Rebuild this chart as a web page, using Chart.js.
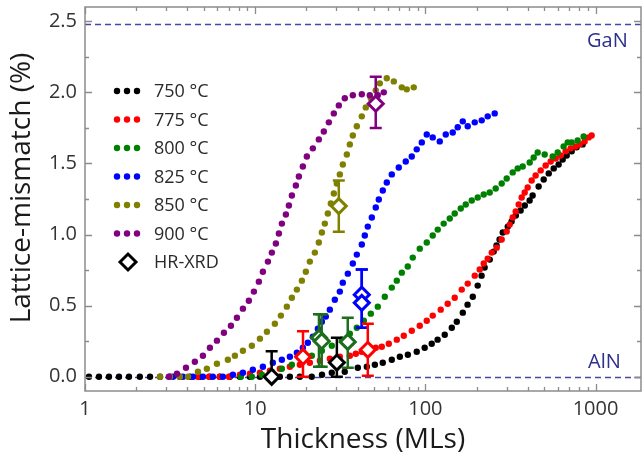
<!DOCTYPE html>
<html><head><meta charset="utf-8">
<script src="https://cdn.jsdelivr.net/npm/chart.js@4.4.1/dist/chart.umd.min.js"></script>
<style>html,body{margin:0;padding:0;background:#fff;overflow:hidden;}#wrap{width:643px;height:459px;overflow:hidden;}canvas{display:block;}</style>
</head><body><div id="wrap"><canvas id="c" width="643" height="459"></canvas></div>
<script>
const seriesNames = ['750 °C','775 °C','800 °C','825 °C','850 °C','900 °C'];
const t750 = [1.055,1.208,1.383,1.584,1.813,2.10,2.41,2.76,3.16,3.61,4.14,4.74,5.42,6.20,7.10,8.13,9.31,10.66,12.2,13.96,15.99,18.3,21.5,24.7,28.2,33.6,40.1,45.3,50.5,56.2,63.5,70.8,78.9,89.0,99.1,109,118,130,143,153,166,177,190,203,214,223,239,252,262,273,285,305,321,340,363,384,410,427,463,496,531,568,607,641,677,724,774,840];
const m750 = [0,0,0,0,0,0,0,0,0,0,0,0,0,0,0,0,0,0,0,0,0,0,0,0.014,0.028,0.035,0.063,0.07,0.085,0.099,0.12,0.141,0.155,0.176,0.204,0.232,0.261,0.296,0.345,0.387,0.451,0.507,0.563,0.641,0.711,0.768,0.824,0.880,0.923,0.965,1.014,1.056,1.092,1.134,1.169,1.204,1.239,1.275,1.338,1.387,1.430,1.465,1.493,1.528,1.556,1.585,1.613,1.634];
const t775 = [4.61,5.35,6.20,7.01,8.13,9.31,10.66,12.2,13.96,15.99,18.3,20.95,23.99,27.46,31.44,35.99,39.03,42.32,47.16,51.13,55.46,60.97,67.95,74.69,83.2,92.7,101.9,110.5,123.1,135.3,148.8,163.6,177.4,195.1,208.7,220.3,232.5,245.5,262.6,280.9,300.6,313.1,326.1,339.6,353.6,368.1,383.5,399.3,421.4,444.8,476.0,509.3,545.0,583.1,623.9,667.4,714.2,764.2,806.7,863.0,911.0,948.7];
const m775 = [0,0,0,0,0.014,0.021,0.028,0.042,0.056,0.070,0.085,0.099,0.113,0.127,0.141,0.148,0.162,0.176,0.190,0.204,0.211,0.232,0.261,0.289,0.324,0.359,0.394,0.430,0.472,0.514,0.556,0.613,0.655,0.711,0.754,0.796,0.831,0.873,0.908,0.965,1.021,1.070,1.120,1.162,1.211,1.261,1.296,1.331,1.380,1.415,1.451,1.486,1.514,1.535,1.556,1.585,1.606,1.620,1.634,1.655,1.683,1.697];
const t800 = [8.24,9.56,10.95,12.53,14.35,16.43,18.81,21.52,24.65,28.21,32.29,35.99,39.56,43.49,47.81,52.55,57.77,63.5,67.95,72.70,78.83,84.33,92.7,101.9,110.5,118.3,128.2,139.1,148.8,161.4,172.7,187.3,203.1,220.3,238.9,259.1,280.9,300.6,326.1,348.9,373.3,410.2,433.0,457.1,502.5,560.0,599.2,649.6,685.9,724.0,785.1,851.4];
const m800 = [0,0,0.014,0.035,0.056,0.085,0.113,0.148,0.183,0.218,0.261,0.303,0.345,0.394,0.444,0.493,0.563,0.627,0.676,0.732,0.775,0.838,0.901,0.944,0.993,1.035,1.077,1.113,1.148,1.183,1.211,1.239,1.261,1.282,1.296,1.324,1.359,1.394,1.437,1.465,1.479,1.507,1.542,1.577,1.563,1.549,1.577,1.620,1.648,1.648,1.662,1.690];
const t825 = [3.29,3.76,4.31,4.93,5.64,6.46,7.40,8.47,9.69,11.10,12.70,14.35,15.99,17.58,19.06,20.39,21.82,23.35,24.65,26.01,27.46,29.38,31.44,32.73,35.03,37.48,39.56,42.32,44.07,45.89,48.46,51.13,53.26,56.23,59.35,63.5,69.8,76.7,83.2,89.0,95.3,101.9,110.5,121.5,131.8,144.9,155.0,165.9,177.4,195.1,214.4,232.5,255.6];
const m825 = [0,0,0,0,0,0,0.014,0.028,0.049,0.070,0.099,0.120,0.141,0.169,0.204,0.239,0.282,0.338,0.387,0.423,0.472,0.542,0.599,0.662,0.725,0.796,0.859,0.930,0.993,1.056,1.120,1.190,1.246,1.310,1.366,1.423,1.472,1.514,1.549,1.599,1.648,1.704,1.683,1.655,1.704,1.718,1.754,1.796,1.761,1.789,1.803,1.831,1.852];
const t850 = [2.76,3.16,3.61,4.03,4.61,5.20,5.96,6.91,7.60,8.47,9.56,10.66,11.72,13.05,14.16,15.35,16.43,17.58,18.81,19.85,20.95,22.42,23.66,24.65,25.66,26.73,27.83,28.98,30.18,31.44,32.73,34.56,35.99,37.48,39.56,42.32,44.67,47.81,51.13,53.98,59.34,65.26,72.70,77.76,85.47];
const m850 = [0,0,0,0,0.035,0.056,0.092,0.120,0.148,0.183,0.218,0.268,0.317,0.373,0.430,0.493,0.556,0.613,0.676,0.739,0.810,0.873,0.944,1.014,1.077,1.148,1.218,1.289,1.359,1.423,1.493,1.563,1.634,1.697,1.761,1.831,1.894,1.958,2.014,2.063,2.099,2.077,2.035,2.021,2.035];
const t900 = [3.11,3.47,3.92,4.42,4.93,5.42,5.96,6.55,7.20,7.81,8.47,9.18,9.83,10.51,11.10,11.88,12.53,13.23,13.78,14.35,15.15,15.78,16.43,17.34,18.06,19.06,20.12,21.82,23.66,25.32,27.09,28.98,31.01,33.63,37.48,42.32,47.16,52.55,56.98];
const m900 = [0,0.021,0.063,0.106,0.148,0.204,0.254,0.310,0.359,0.415,0.479,0.535,0.599,0.669,0.739,0.810,0.873,0.937,1.007,1.077,1.141,1.204,1.275,1.345,1.408,1.479,1.549,1.606,1.669,1.725,1.789,1.852,1.908,1.958,1.979,1.986,1.979,1.979,2.000];

// HR-XRD points
const xrdSeries = [0,1,2,2,0,2,3,3,1,4,5];
const xrdT    = [12.5,19.1,23.7,24.6,30.2,35.0,42.3,42.3,45.9,31.0,51.1];
const xrdM    = [0.00,0.14,0.275,0.25,0.10,0.245,0.577,0.52,0.19,1.20,1.92];
const xrdLow  = [0.00,0.00,0.07,0.07,0.00,0.063,0.345,0.345,0.007,1.02,1.75];
const xrdHigh = [0.18,0.32,0.44,0.44,0.275,0.415,0.754,0.754,0.373,1.38,2.11];

const xTickValues = [1,10,100,1000];
const xTickLabels = ['1','10','100','1000'];
const yTickValues = [0,0.5,1,1.5,2,2.5];
const yTickLabels = ['0.0','0.5','1.0','1.5','2.0','2.5'];
const refNames = ['GaN','AlN'];
const refValues = [2.48,0];
const xMin = 1, xMax = 1850, yMin = -0.1, yMax = 2.6;

const dotColors = ['#000000','#ff0000','#008000','#0000ff','#808000','#800080'];
const xrdColors = ['#000000','#ff0000','#1c6e1c','#0000ff','#808000','#800080'];
const FONT = '"Open Sans", "DejaVu Sans", sans-serif';

const tList = [t750,t775,t800,t825,t850,t900];
const mList = [m750,m775,m800,m825,m850,m900];
const datasets = [{
  label:'HR-XRD', order:0,
  data: xrdT.map((t,i)=>({x:t,y:xrdM[i]})),
  pointStyle:'rectRot', pointRadius:7.5, pointHoverRadius:7.5,
  pointBorderWidth:3, pointHoverBorderWidth:3,
  pointBorderColor: xrdSeries.map(s=>xrdColors[s]),
  pointBackgroundColor:'#ffffff', showLine:false
}];
seriesNames.forEach((n,i)=>{
  datasets.push({label:n, order:6-i, data:tList[i].map((t,j)=>({x:t,y:mList[i][j]})),
    pointRadius:3.2, pointHoverRadius:3.2, pointBorderWidth:0,
    pointBackgroundColor:dotColors[i], pointBorderColor:dotColors[i], showLine:false});
});

const decor = {
  id:'decor',
  beforeDatasetsDraw(chart){
    const {ctx, chartArea:a, scales:{y}} = chart;
    ctx.save();
    ctx.strokeStyle='#4646a6'; ctx.lineWidth=1.4; ctx.setLineDash([6,4]);
    refValues.forEach(v=>{const py=Math.round(y.getPixelForValue(v))+0.5;
      ctx.beginPath(); ctx.moveTo(a.left,py); ctx.lineTo(a.right,py); ctx.stroke();});
    ctx.restore();
  },
  beforeDatasetDraw(chart,args){
    if(args.index!==0) return;
    const {ctx, chartArea:a, scales:{x,y}} = chart;
    ctx.save();
    ctx.beginPath(); ctx.rect(a.left,a.top,a.right-a.left,a.bottom-a.top); ctx.clip();
    ctx.lineWidth=2.5;
    xrdT.forEach((t,i)=>{
      const px=x.getPixelForValue(t), lo=y.getPixelForValue(xrdLow[i]), hi=y.getPixelForValue(xrdHigh[i]);
      ctx.strokeStyle=xrdColors[xrdSeries[i]];
      ctx.beginPath(); ctx.moveTo(px,lo); ctx.lineTo(px,hi);
      ctx.moveTo(px-6,hi); ctx.lineTo(px+6,hi);
      if(xrdLow[i]<xrdM[i]){ctx.moveTo(px-6,lo); ctx.lineTo(px+6,lo);}
      ctx.stroke();
    });
    ctx.restore();
  },
  afterDraw(chart){
    const {ctx, chartArea:a, scales:{x,y}} = chart;
    ctx.save();
    ctx.strokeStyle='#8c8c8c'; ctx.lineWidth=1.5;
    ctx.strokeRect(a.left,a.top,a.right-a.left,a.bottom-a.top);
    ctx.lineWidth=1.3;
    ctx.beginPath();
    for(let e=0;e<=3;e++) for(let m=1;m<=9;m++){
      const v=m*Math.pow(10,e); if(v>xMax) continue;
      const px=Math.round(x.getPixelForValue(v))+0.5, L=(m===1)?7:4;
      ctx.moveTo(px,a.bottom); ctx.lineTo(px,a.bottom-L);
      ctx.moveTo(px,a.top); ctx.lineTo(px,a.top+L);
    }
    for(let k=0;k<=10;k++){
      const v=k*0.25, py=Math.round(y.getPixelForValue(v))+0.5, L=(k%2===0)?7:4;
      ctx.moveTo(a.left,py); ctx.lineTo(a.left+L,py);
      ctx.moveTo(a.right,py); ctx.lineTo(a.right-L,py);
    }
    ctx.stroke();
    ctx.fillStyle='#2e2e8e'; ctx.font='20px '+FONT; ctx.textBaseline='middle'; ctx.textAlign='left';
    ctx.fillText(refNames[0], 587, y.getPixelForValue(refValues[0])+17);
    ctx.fillText(refNames[1], 588, y.getPixelForValue(refValues[1])-14);
    ctx.font='18px '+FONT;
    seriesNames.forEach((n,i)=>{
      const ly=91+i*28.5;
      ctx.fillStyle=dotColors[i];
      [117,127,137].forEach(dx=>{ctx.beginPath(); ctx.arc(dx,ly,3.2,0,Math.PI*2); ctx.fill();});
      ctx.fillStyle='#2a2a2a'; ctx.fillText(n,154,ly+1);
    });
    const hy=91+6*28.5;
    ctx.strokeStyle='#000'; ctx.lineWidth=3; ctx.fillStyle='#fff';
    ctx.beginPath(); ctx.moveTo(120,hy); ctx.lineTo(128,hy-8); ctx.lineTo(136,hy); ctx.lineTo(128,hy+8); ctx.closePath(); ctx.fill(); ctx.stroke();
    ctx.fillStyle='#2a2a2a'; ctx.fillText(datasets[0].label,154,hy+1);
    ctx.fillStyle='#1a1a1a'; ctx.font='28px '+FONT; ctx.textAlign='center';
    ctx.fillText('Thickness (MLs)', (a.left+a.right)/2, 440);
    ctx.translate(22,188); ctx.rotate(-Math.PI/2);
    ctx.fillText('Lattice-mismatch (%)',0,0);
    ctx.restore();
  }
};

new Chart(document.getElementById('c'), {
  type:'scatter',
  data:{datasets},
  plugins:[decor],
  options:{
    responsive:false, animation:false, devicePixelRatio:1,
    layout:{autoPadding:false, padding:{left:0,top:7,right:2,bottom:0}},
    plugins:{legend:{display:false}, tooltip:{enabled:false}},
    scales:{
      x:{type:'logarithmic', min:xMin, max:xMax, bounds:'data', offset:false,
        grid:{display:false, drawTicks:false, offset:false}, border:{display:false},
        afterBuildTicks(s){s.ticks=xTickValues.map(v=>({value:v, major:true}));},
        afterFit(s){s.height=68; s.paddingLeft=0; s.paddingRight=0;},
        ticks:{autoSkip:false, maxRotation:0, padding:6, color:'#333', font:{family:FONT,size:20},
          callback:(v,i)=>xTickLabels[i]}},
      y:{type:'linear', min:yMin, max:yMax, bounds:'data',
        grid:{display:false, drawTicks:false}, border:{display:false},
        afterBuildTicks(s){s.ticks=yTickValues.map(v=>({value:v}));},
        afterFit(s){s.width=85; s.paddingTop=0; s.paddingBottom=0;},
        ticks:{padding:8, color:'#333', font:{family:FONT,size:20},
          callback:(v,i)=>yTickLabels[i]}}
    }
  }
});
</script></body></html>
